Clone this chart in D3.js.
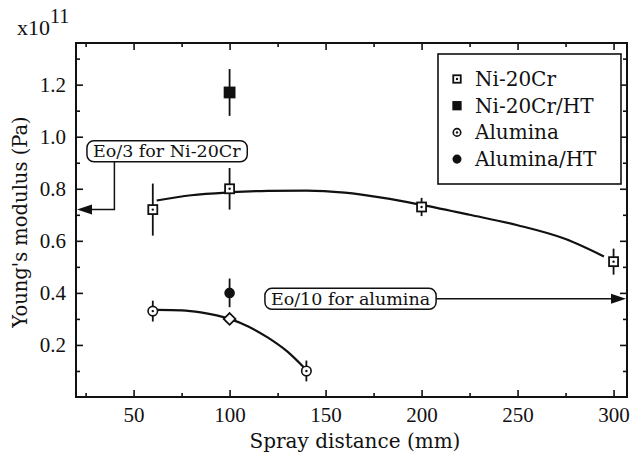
<!DOCTYPE html>
<html>
<head>
<meta charset="utf-8">
<script src="https://cdn.jsdelivr.net/npm/d3@7"></script>
<style>
    body { margin: 0; background: #fff; }
    text { font-family: "DejaVu Serif", serif; fill: #111; }
    .axis text { font-family: "Liberation Serif", serif; font-size: 21px; fill: #111; }
    .axis path, .axis line { stroke: #111; }
</style>
</head>
<body>
<div id="chart"></div>
<script>
// spray distance (mm) vs Young's modulus (x10^11 Pa)
const niDist = [60, 100, 200, 300]
const niE = [0.72, 0.80, 0.73, 0.52]
const niErr = [0.10, 0.08, 0.035, 0.05]

const niHtDist = [100]
const niHtE = [1.17]
const niHtErr = [0.09]

const alDist = [60, 100, 140]
const alE = [0.33, 0.30, 0.10]
const alErr = [0.04, 0, 0.04]
const alShape = ["circle", "diamond", "circle"]

const alHtDist = [100]
const alHtE = [0.40]
const alHtErr = [0.055]

// fitted trend lines
const niFitX = [62, 80, 100, 120, 140, 160, 180, 200, 225, 250, 275, 295]
const niFitY = [0.755, 0.775, 0.786, 0.792, 0.793, 0.785, 0.765, 0.738, 0.70, 0.66, 0.607, 0.54]
const alFitX = [62, 75, 85, 100, 110, 120, 130, 138.5]
const alFitY = [0.335, 0.333, 0.325, 0.30, 0.27, 0.228, 0.175, 0.115]

const xMajor = [50, 100, 150, 200, 250, 300]
const xMinor = [25, 75, 125, 175, 225, 275]
const yMajor = [0.2, 0.4, 0.6, 0.8, 1.0, 1.2]
const yMinor = [0.1, 0.3, 0.5, 0.7, 0.9, 1.1, 1.3]

const legendLabels = ["Ni-20Cr", "Ni-20Cr/HT", "Alumina", "Alumina/HT"]
const legendShapes = ["squareOpen", "squareFilled", "circleOpen", "circleFilled"]

const annoLabels = ["Eo/3 for Ni-20Cr", "Eo/10 for alumina"]
const eoNi = 0.72
const eoAl = 0.377

const margin = {top: 43, right: 3, bottom: 63, left: 76}
const width = 630 - margin.left - margin.right
const height = 460 - margin.top - margin.bottom

const svg = d3.select("#chart")
    .append("svg")
    .attr("width", 630)
    .attr("height", 460)
    .append("g")
    .attr("transform", "translate(" + margin.left + "," + margin.top + ")")

const x = d3.scaleLinear().domain([20, 307]).range([0, width])
const y = d3.scaleLinear().domain([0, 1.36]).range([height, 0])

// axes, ticks pointing inward on all four sides
function addAxis(axis, tx, ty, values, size, labels) {
    const g = svg.append("g")
        .attr("class", "axis")
        .attr("transform", "translate(" + tx + "," + ty + ")")
        .call(axis.tickValues(values).tickSize(size).tickSizeOuter(0)
            .tickPadding(labels ? 10 : 0)
            .tickFormat(labels ? labels : ""))
    g.select(".domain").remove()
    g.selectAll(".tick line").attr("stroke-width", 1.6)
    return g
}
addAxis(d3.axisBottom(x), 0, height, xMajor, -7, d3.format("d"))
addAxis(d3.axisBottom(x), 0, height, xMinor, -4, null)
addAxis(d3.axisTop(x), 0, 0, xMajor, -7, null)
addAxis(d3.axisTop(x), 0, 0, xMinor, -4, null)
addAxis(d3.axisLeft(y), 0, 0, yMajor, -7, d3.format(".1f"))
addAxis(d3.axisLeft(y), 0, 0, yMinor, -4, null)
addAxis(d3.axisRight(y), width, 0, yMajor, -7, null)
addAxis(d3.axisRight(y), width, 0, yMinor, -4, null)

svg.append("rect")
    .attr("width", width)
    .attr("height", height)
    .attr("fill", "none")
    .attr("stroke", "#111")
    .attr("stroke-width", 2)

// axis titles
svg.append("text")
    .attr("x", 279)
    .attr("y", height + 51)
    .attr("text-anchor", "middle")
    .style("font-size", "20px")
    .text("Spray distance (mm)")

svg.append("text")
    .attr("transform", "translate(" + (-49) + "," + 179 + ") rotate(-90)")
    .attr("text-anchor", "middle")
    .style("font-size", "19.5px")
    .text("Young's modulus (Pa)")

const expo = svg.append("text")
    .attr("x", -59)
    .attr("y", -8)
    .style("font-family", "'Liberation Serif', serif")
    .style("font-size", "22px")
expo.append("tspan").text("x10")
expo.append("tspan").attr("dy", -12).style("font-size", "20px").text("11")

// fitted curves
const line = d3.line()
    .x(d => x(d[0]))
    .y(d => y(d[1]))
    .curve(d3.curveMonotoneX)

svg.append("path")
    .datum(d3.zip(niFitX, niFitY))
    .attr("d", line)
    .attr("fill", "none")
    .attr("stroke", "#111")
    .attr("stroke-width", 2.2)

svg.append("path")
    .datum(d3.zip(alFitX, alFitY))
    .attr("d", line)
    .attr("fill", "none")
    .attr("stroke", "#111")
    .attr("stroke-width", 2.2)

// error bars
function errorBars(xs, ys, es) {
    svg.append("g")
        .selectAll("line")
        .data(d3.zip(xs, ys, es).filter(d => d[2] > 0))
        .enter()
        .append("line")
        .attr("x1", d => x(d[0]))
        .attr("x2", d => x(d[0]))
        .attr("y1", d => y(d[1] - d[2]))
        .attr("y2", d => y(d[1] + d[2]))
        .attr("stroke", "#111")
        .attr("stroke-width", 1.8)
}
errorBars(niDist, niE, niErr)
errorBars(niHtDist, niHtE, niHtErr)
errorBars(alDist, alE, alErr)
errorBars(alHtDist, alHtE, alHtErr)

// markers
function marker(g, shape, cx, cy, s) {
    if (shape === "squareOpen" || shape === "squareFilled") {
        g.append("rect")
            .attr("x", cx - s / 2).attr("y", cy - s / 2)
            .attr("width", s).attr("height", s)
            .attr("fill", shape === "squareFilled" ? "#111" : "#fff")
            .attr("stroke", "#111").attr("stroke-width", 1.8)
    } else if (shape === "circleOpen" || shape === "circleFilled") {
        g.append("circle")
            .attr("cx", cx).attr("cy", cy).attr("r", s / 2)
            .attr("fill", shape === "circleFilled" ? "#111" : "#fff")
            .attr("stroke", "#111").attr("stroke-width", 1.6)
    } else if (shape === "diamond") {
        const r = s * 0.62
        g.append("path")
            .attr("d", `M${cx},${cy - r}L${cx + r},${cy}L${cx},${cy + r}L${cx - r},${cy}Z`)
            .attr("fill", "#fff")
            .attr("stroke", "#111").attr("stroke-width", 1.8)
    }
    if (shape === "squareOpen" || shape === "circleOpen") {
        g.append("circle").attr("cx", cx).attr("cy", cy).attr("r", 1.2).attr("fill", "#111")
    }
}

const marks = svg.append("g")
niDist.forEach((d, i) => marker(marks, "squareOpen", x(d), y(niE[i]), 9))
niHtDist.forEach((d, i) => marker(marks, "squareFilled", x(d), y(niHtE[i]), 10))
alDist.forEach((d, i) => marker(marks, alShape[i] === "diamond" ? "diamond" : "circleOpen", x(d), y(alE[i]), 9.5))
alHtDist.forEach((d, i) => marker(marks, "circleFilled", x(d), y(alHtE[i]), 9))

// legend
const legend = svg.append("g").attr("transform", "translate(" + 362 + "," + 11 + ")")
legend.append("rect")
    .attr("width", 183)
    .attr("height", 130)
    .attr("fill", "#fff")
    .attr("stroke", "#111")
    .attr("stroke-width", 1.6)
legendLabels.forEach((lab, i) => {
    const ly = 25 + i * 26.7
    marker(legend, legendShapes[i], 19, ly, 7.5)
    legend.append("text")
        .attr("x", 37)
        .attr("y", ly + 7)
        .style("font-size", "20px")
        .text(lab)
})

// annotation boxes with arrows
function arrowHead(tipX, tipY, dir) {
    const len = 15, half = 5
    svg.append("path")
        .attr("d", `M${tipX},${tipY}L${tipX - dir * len},${tipY - half}L${tipX - dir * len},${tipY + half}Z`)
        .attr("fill", "#111")
}
function annoBox(label, bx, cy) {
    const g = svg.append("g")
    const t = g.append("text")
        .attr("x", bx + 6)
        .attr("y", cy + 6)
        .style("font-size", "17.5px")
        .text(label)
    const bb = t.node().getBBox()
    g.insert("rect", "text")
        .attr("x", bx)
        .attr("y", cy - 10.5)
        .attr("width", bb.width + 12)
        .attr("height", 21)
        .attr("rx", 7)
        .attr("fill", "#fff")
        .attr("stroke", "#111")
        .attr("stroke-width", 1.5)
    return bx + bb.width + 12
}

// Eo/3 for Ni-20Cr
svg.append("path")
    .attr("d", `M${x(40)},${y(0.944) + 10}V${y(eoNi)}H${x(20) + 10}`)
    .attr("fill", "none")
    .attr("stroke", "#111")
    .attr("stroke-width", 1.5)
arrowHead(x(20) + 1, y(eoNi), -1)
annoBox(annoLabels[0], x(25.7), y(0.944))

// Eo/10 for alumina
const boxEnd = annoBox(annoLabels[1], x(118.4), y(eoAl))
svg.append("line")
    .attr("x1", boxEnd)
    .attr("x2", x(307) - 10)
    .attr("y1", y(eoAl))
    .attr("y2", y(eoAl))
    .attr("stroke", "#111")
    .attr("stroke-width", 1.5)
arrowHead(x(307) - 1, y(eoAl), 1)
</script>
</body>
</html>
